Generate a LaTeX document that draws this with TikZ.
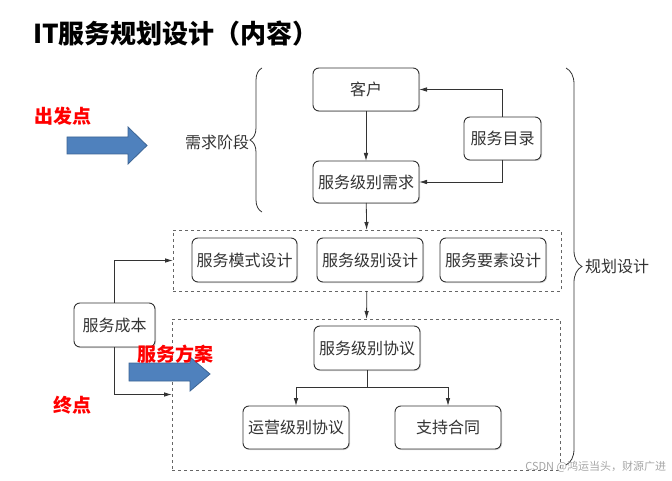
\documentclass[tikz,border=0pt]{standalone}
\usepackage{fontspec}
\newfontfamily\cjk{Noto Sans CJK SC}
\usetikzlibrary{arrows.meta,decorations.pathreplacing,shadows}

\definecolor{arrowblue}{HTML}{4F81BD}
\definecolor{arrowedge}{HTML}{3C6494}

\begin{document}
\begin{tikzpicture}[x=1pt,y=-1pt]
\tikzset{ >={Latex[length=8pt,width=4.5pt]}, inner sep=0pt, outer sep=0pt,
  box/.style={draw=black!80, line width=0.9pt, rounded corners=6pt, fill=white,
    font=\cjk\fontsize{16}{16}\selectfont, text=black!80,
    drop shadow={shadow xshift=1pt, shadow yshift=-1pt, fill=black!30}},
  area/.style={draw=black!60, dashed, line width=0.6pt},
  link/.style={black!80, line width=0.8pt},
  lbl/.style={font=\cjk\fontsize{16}{16}\selectfont, text=black!80},
  redtag/.style={font=\cjk\bfseries\fontsize{19}{19}\selectfont, text=red},
}

\useasboundingbox (0,0) rectangle (672,481);
%\draw [lightgray, dashed](0,0) grid[step=20] (672,481);

\node [anchor=west, font=\cjk\bfseries\fontsize{26}{26}\selectfont] (TITLE) at (33,34) {IT服务规划设计（内容）};

\node [area, minimum width=388pt, minimum height=61pt]  (D1) at (367,260.5) {};
\node [area, minimum width=388pt, minimum height=151pt] (D2) at (366,394.5) {};

\node [box, minimum width=106pt, minimum height=43pt] (C)   at (366,89.5) {客户};
\node [box, minimum width=77pt,  minimum height=43pt] (SC)  at (502.5,138.5) {服务目录};
\node [box, minimum width=106pt, minimum height=42pt] (SLR) at (366,182) {服务级别需求};

\node [box, minimum width=105pt, minimum height=44pt] (SMD) at (244.5,260) {服务模式设计};
\node [box, minimum width=106pt, minimum height=44pt] (SLD) at (370,260) {服务级别设计};
\node [box, minimum width=106pt, minimum height=44pt] (SED) at (493,260) {服务要素设计};

\node [box, minimum width=106pt, minimum height=44pt] (SLA) at (367,348) {服务级别协议};
\node [box, minimum width=106pt, minimum height=43pt] (OLA) at (296,427.5) {运营级别协议};
\node [box, minimum width=106pt, minimum height=43pt] (UC)  at (448,427.5) {支持合同};

\node [box, minimum width=81pt, minimum height=44pt] (COST) at (114.5,325) {服务成本};

\coordinate (SPLIT) at (367,387);

\draw [link,->] (C) -- (SLR);
\draw [link,->] (SC.north) |- (C.east);
\draw [link,->] (SC.south) |- (SLR.east);
\draw [link,->] (SLR) -- (D1);
\draw [link,->] (D1) -- (D2);

\draw [link]    (SLA) -- (SPLIT);
\draw [link,->] (SPLIT) -| (OLA.north);
\draw [link,->] (SPLIT) -| (UC.north);

\draw [link,->] (COST.north) |- (D1.west);
\draw [link,->] (COST.south) |- (D2.west);

% braces
\draw [link, decorate, decoration={brace, amplitude=12pt}] (262,212) -- (262,68);
\draw [link, decorate, decoration={brace, amplitude=16pt}] (566,68) -- (566,465);

\node [lbl, anchor=east] (NEED) at (249,142) {需求阶段};
\node [lbl, anchor=west] (PLAN) at (585,266) {规划设计};

% blue arrows
\filldraw [fill=arrowblue, draw=arrowedge, line width=0.8pt]
  (67,137) -- (128,137) -- (128,127) -- (147,145.5) -- (128,164) -- (128,154) -- (67,154) -- cycle;
\filldraw [fill=arrowblue, draw=arrowedge, line width=0.8pt]
  (129,363) -- (190,363) -- (190,357) -- (210,374) -- (190,391) -- (190,381) -- (129,381) -- cycle;

\node [redtag] (START) at (63,116)  {出发点};
\node [redtag] (SOL)   at (175,354) {服务方案};
\node [redtag] (END)   at (72,405)  {终点};

\node [anchor=east, font=\cjk\fontsize{11}{11}\selectfont, text=black!35] (WM) at (666,467) {CSDN @鸿运当头，财源广进};

\end{tikzpicture}
\end{document}
